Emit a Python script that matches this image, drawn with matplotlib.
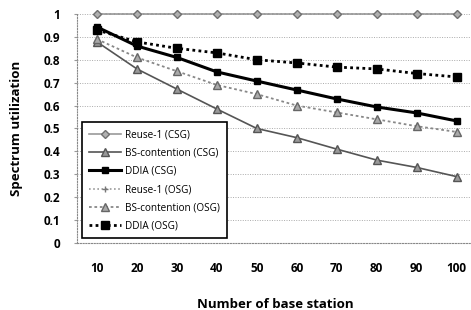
import matplotlib
matplotlib.use("Agg")
import matplotlib.pyplot as plt

plt.rcParams["font.family"] = ["Open Sans", "DejaVu Sans"]

# 数据
base_stations = [10, 20, 30, 40, 50, 60, 70, 80, 90, 100]
reuse1_csg = [1.0, 1.0, 1.0, 1.0, 1.0, 1.0, 1.0, 1.0, 1.0, 1.0]
bs_csg = [0.878, 0.76, 0.672, 0.585, 0.50, 0.46, 0.41, 0.362, 0.33, 0.29]
ddia_csg = [0.943, 0.86, 0.81, 0.747, 0.707, 0.668, 0.629, 0.594, 0.568, 0.533]
reuse1_osg = [1.0, 1.0, 1.0, 1.0, 1.0, 1.0, 1.0, 1.0, 1.0, 1.0]
bs_osg = [0.89, 0.81, 0.75, 0.69, 0.65, 0.60, 0.57, 0.54, 0.51, 0.485]
ddia_osg = [0.93, 0.878, 0.85, 0.83, 0.80, 0.786, 0.768, 0.76, 0.74, 0.725]
y_ticks = [0, 0.1, 0.2, 0.3, 0.4, 0.5, 0.6, 0.7, 0.8, 0.9, 1]
y_tick_labels = ["0", "0.1", "0.2", "0.3", "0.4", "0.5", "0.6", "0.7", "0.8", "0.9", "1"]

fig = plt.figure(figsize=(4.71, 3.10), dpi=100)
ax = fig.add_axes([0.1635, 0.216, 0.84, 0.739])

ax.plot(base_stations, reuse1_csg, color="#9a9a9a", lw=1.2, marker="D", ms=4.5,
        mfc="#b0b0b0", mec="#707070", label="Reuse-1 (CSG)", clip_on=False, zorder=3)
ax.plot(base_stations, bs_csg, color="#555555", lw=1.2, marker="^", ms=5.5,
        mfc="#999999", mec="#555555", label="BS-contention (CSG)", clip_on=False, zorder=3)
ax.plot(base_stations, ddia_csg, color="black", lw=2.2, marker="s", ms=4.5,
        mfc="black", mec="black", label="DDIA (CSG)", clip_on=False, zorder=4)
ax.plot(base_stations, reuse1_osg, color="#9a9a9a", lw=1.2, ls=(0, (1, 1.5)), marker="+", ms=5,
        mec="#777777", label="Reuse-1 (OSG)", clip_on=False, zorder=2)
ax.plot(base_stations, bs_osg, color="#888888", lw=1.3, ls=(0, (1.5, 1.5)), marker="^", ms=5.5,
        mfc="#aaaaaa", mec="#666666", label="BS-contention (OSG)", clip_on=False, zorder=3)
ax.plot(base_stations, ddia_osg, color="black", lw=2.0, ls=(0, (1, 1.2)), marker="s", ms=5.5,
        mfc="black", mec="black", label="DDIA (OSG)", clip_on=False, zorder=4)

ax.set_xlim(5, 104)
ax.set_ylim(0, 1)
ax.set_xticks(base_stations)
ax.set_xticklabels([str(v) for v in base_stations], fontsize=8.5, fontweight="bold")
ax.set_yticks(y_ticks)
ax.set_yticklabels(y_tick_labels, fontsize=8.5, fontweight="bold")
ax.tick_params(axis="x", length=0, pad=14)
ax.tick_params(axis="y", length=2, pad=10, color="#999999")

for s in ["top", "right"]:
    ax.spines[s].set_visible(False)
ax.spines["left"].set_linestyle((0, (1, 1.5)))
ax.spines["left"].set_color("#888888")
ax.spines["left"].set_linewidth(0.8)
ax.spines["bottom"].set_linestyle((0, (1, 1.5)))
ax.spines["bottom"].set_color("#888888")
ax.spines["bottom"].set_linewidth(0.8)
ax.grid(axis="y", color="#aaaaaa", ls=(0, (1, 1.5)), lw=0.7)
ax.set_axisbelow(True)

ax.set_xlabel("Number of base station", fontsize=9.5, fontweight="bold", labelpad=16)
ax.set_ylabel("Spectrum utilization", fontsize=9.5, fontweight="bold", labelpad=15)

leg = ax.legend(loc="lower left", bbox_to_anchor=(0.012, 0.02), fontsize=7.2,
                frameon=True, fancybox=False, edgecolor="black", framealpha=1,
                handlelength=3.2, borderpad=0.7, labelspacing=0.72, handletextpad=0.4,
                borderaxespad=0)
leg.get_frame().set_linewidth(1.2)

fig.savefig("out.png", dpi=100, facecolor="white")
